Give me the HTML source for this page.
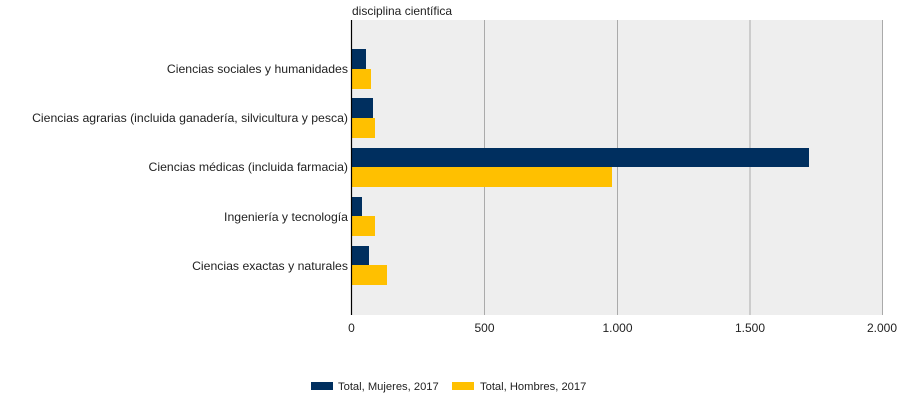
<!DOCTYPE html>
<html><head><meta charset="utf-8"><style>
html,body{margin:0;padding:0;background:#fff;}
svg{display:block;font-family:"Liberation Sans",Arial,sans-serif;}
</style></head><body>
<svg width="917" height="413" viewBox="0 0 917 413" xmlns="http://www.w3.org/2000/svg">
<rect x="0" y="0" width="917" height="413" fill="#fff"/>
<rect x="351.5" y="20" width="530.8" height="295" fill="#eeeeee"/>
<g stroke="#aaaaaa" stroke-width="1">
<line x1="484.5" y1="20" x2="484.5" y2="315"/>
<line x1="617.5" y1="20" x2="617.5" y2="315"/>
<line x1="750" y1="20" x2="750" y2="315"/>
<line x1="882.5" y1="20" x2="882.5" y2="315"/>
</g>
<g fill="#002f5f">
<rect x="351.5" y="49" width="14.5" height="20"/>
<rect x="351.5" y="98" width="21.5" height="20"/>
<rect x="351.5" y="148" width="457.5" height="19"/>
<rect x="351.5" y="197" width="10.5" height="19"/>
<rect x="351.5" y="246" width="17.5" height="19"/>
</g>
<g fill="#ffc000">
<rect x="351.5" y="69" width="19.5" height="20"/>
<rect x="351.5" y="118" width="23.5" height="20"/>
<rect x="351.5" y="167" width="260.5" height="20"/>
<rect x="351.5" y="216" width="23.5" height="20"/>
<rect x="351.5" y="265" width="35.5" height="20"/>
</g>
<line x1="351.5" y1="20" x2="351.5" y2="315" stroke="#000" stroke-width="1.2"/>
<g font-size="12.25" fill="#222" text-anchor="end">
<text x="348" y="73">Ciencias sociales y humanidades</text>
<text x="348" y="122">Ciencias agrarias (incluida ganadería, silvicultura y pesca)</text>
<text x="348" y="171">Ciencias médicas (incluida farmacia)</text>
<text x="348" y="221">Ingeniería y tecnología</text>
<text x="348" y="270">Ciencias exactas y naturales</text>
</g>
<text x="352" y="15" font-size="12" fill="#222">disciplina científica</text>
<g font-size="12" fill="#222" text-anchor="middle">
<text x="351.5" y="332">0</text>
<text x="484.5" y="332">500</text>
<text x="617.5" y="332">1.000</text>
<text x="750" y="332">1.500</text>
<text x="882" y="332">2.000</text>
</g>
<rect x="311" y="382" width="22" height="8" fill="#002f5f"/>
<text x="338" y="390" font-size="11.2" fill="#222">Total, Mujeres, 2017</text>
<rect x="452" y="382" width="22" height="8" fill="#ffc000"/>
<text x="480" y="390" font-size="11.2" fill="#222">Total, Hombres, 2017</text>
</svg>
</body></html>
